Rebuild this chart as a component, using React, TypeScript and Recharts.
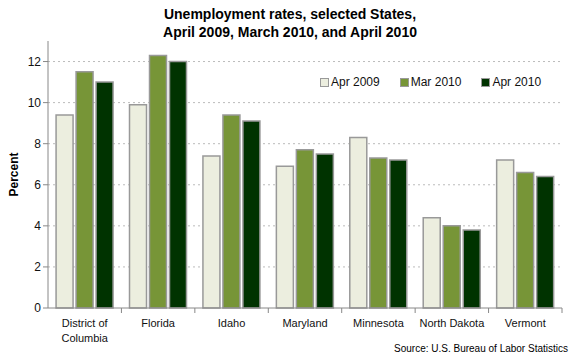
import React from 'react'
import { BarChart, Bar, XAxis, YAxis, CartesianGrid } from 'recharts'

const states = ['District of Columbia', 'Florida', 'Idaho', 'Maryland', 'Minnesota', 'North Dakota', 'Vermont']
const apr2009 = [9.4, 9.9, 7.4, 6.9, 8.3, 4.4, 7.2]
const mar2010 = [11.5, 12.3, 9.4, 7.7, 7.3, 4.0, 6.6]
const apr2010 = [11.0, 12.0, 9.1, 7.5, 7.2, 3.8, 6.4]
const yTicks = [0, 2, 4, 6, 8, 10, 12]
const yMax = 13

const seriesInfo = [
  { key: 'apr2009', name: 'Apr 2009', color: '#ECEEDF' },
  { key: 'mar2010', name: 'Mar 2010', color: '#779537' },
  { key: 'apr2010', name: 'Apr 2010', color: '#003300' },
]

const data = states.map((s, i) => ({ state: s, apr2009: apr2009[i], mar2010: mar2010[i], apr2010: apr2010[i] }))

const font = '"Liberation Sans", Arial, sans-serif'
const W = 580
const H = 360
const M = { top: 41, right: 18, left: 0, bottom: 22 }
const Y_W = 48

const StateTick = (props: any) => {
  const { x, y, payload } = props
  const half = (W - M.left - M.right - Y_W) / states.length / 2
  const words: string[] = payload.value === 'District of Columbia' ? ['District of', 'Columbia'] : [payload.value]
  return (
    <g>
      <line x1={x + half} x2={x + half} y1={y - 8} y2={y - 3} stroke='#888' />
      <text x={x} y={y + 7} textAnchor='middle' fontSize={11} fontFamily={font} fill='#111'>
        {words.map((w, i) => (
          <tspan key={i} x={x} dy={i === 0 ? 4 : 15}>{w}</tspan>
        ))}
      </text>
    </g>
  )
}

// grid lines only at the labelled ticks, not at the top of the domain
const gridLines = ({ offset }: any) =>
  yTicks.filter((t) => t > 0).map((t) => offset.top + offset.height * (1 - t / yMax))

export default function App() {
  return (
    <div style={{ position: 'absolute', left: 0, top: 0, width: W, height: H, background: '#fff' }}>
      <div style={{ position: 'absolute', top: 5, width: W, textAlign: 'center', fontFamily: font, fontWeight: 'bold', fontSize: 14, lineHeight: '18px', color: '#000' }}>
        Unemployment rates, selected States,<br />April 2009, March 2010, and April 2010
      </div>
      <BarChart width={W} height={H} data={data} margin={M} barCategoryGap='11%' barGap={3}>
        <CartesianGrid vertical={false} stroke='#bbb' strokeDasharray='2 3' horizontalCoordinatesGenerator={gridLines} />
        <XAxis dataKey='state' interval={0} height={30} tick={<StateTick />} tickLine={false} axisLine={{ stroke: '#888' }} />
        <YAxis
          width={Y_W}
          domain={[0, yMax]}
          ticks={yTicks}
          tick={{ fontSize: 12, fontFamily: font, fill: '#111' }}
          tickLine={{ stroke: '#888' }}
          tickSize={5}
          axisLine={{ stroke: '#888' }}
          label={{ value: 'Percent', angle: -90, position: 'insideLeft', offset: 14, style: { fontFamily: font, fontWeight: 'bold', fontSize: 12, fill: '#000', textAnchor: 'middle' } }}
        />
        {seriesInfo.map((s) => (
          <Bar key={s.key} dataKey={s.key} name={s.name} fill={s.color} stroke='#999' strokeWidth={1.5} isAnimationActive={false} />
        ))}
      </BarChart>
      <div style={{ position: 'absolute', top: 75, left: 320, display: 'flex', fontFamily: font, fontSize: 12, color: '#111' }}>
        {seriesInfo.map((s) => (
          <div key={s.key} style={{ display: 'flex', alignItems: 'center', marginRight: 20 }}>
            <span style={{ width: 7, height: 7, background: s.color, border: '1px solid #999', marginRight: 2, display: 'inline-block' }} />
            {s.name}
          </div>
        ))}
      </div>
      <div style={{ position: 'absolute', right: 12, top: 343, fontFamily: font, fontSize: 10, color: '#000' }}>
        Source: U.S. Bureau of Labor Statistics
      </div>
    </div>
  )
}
